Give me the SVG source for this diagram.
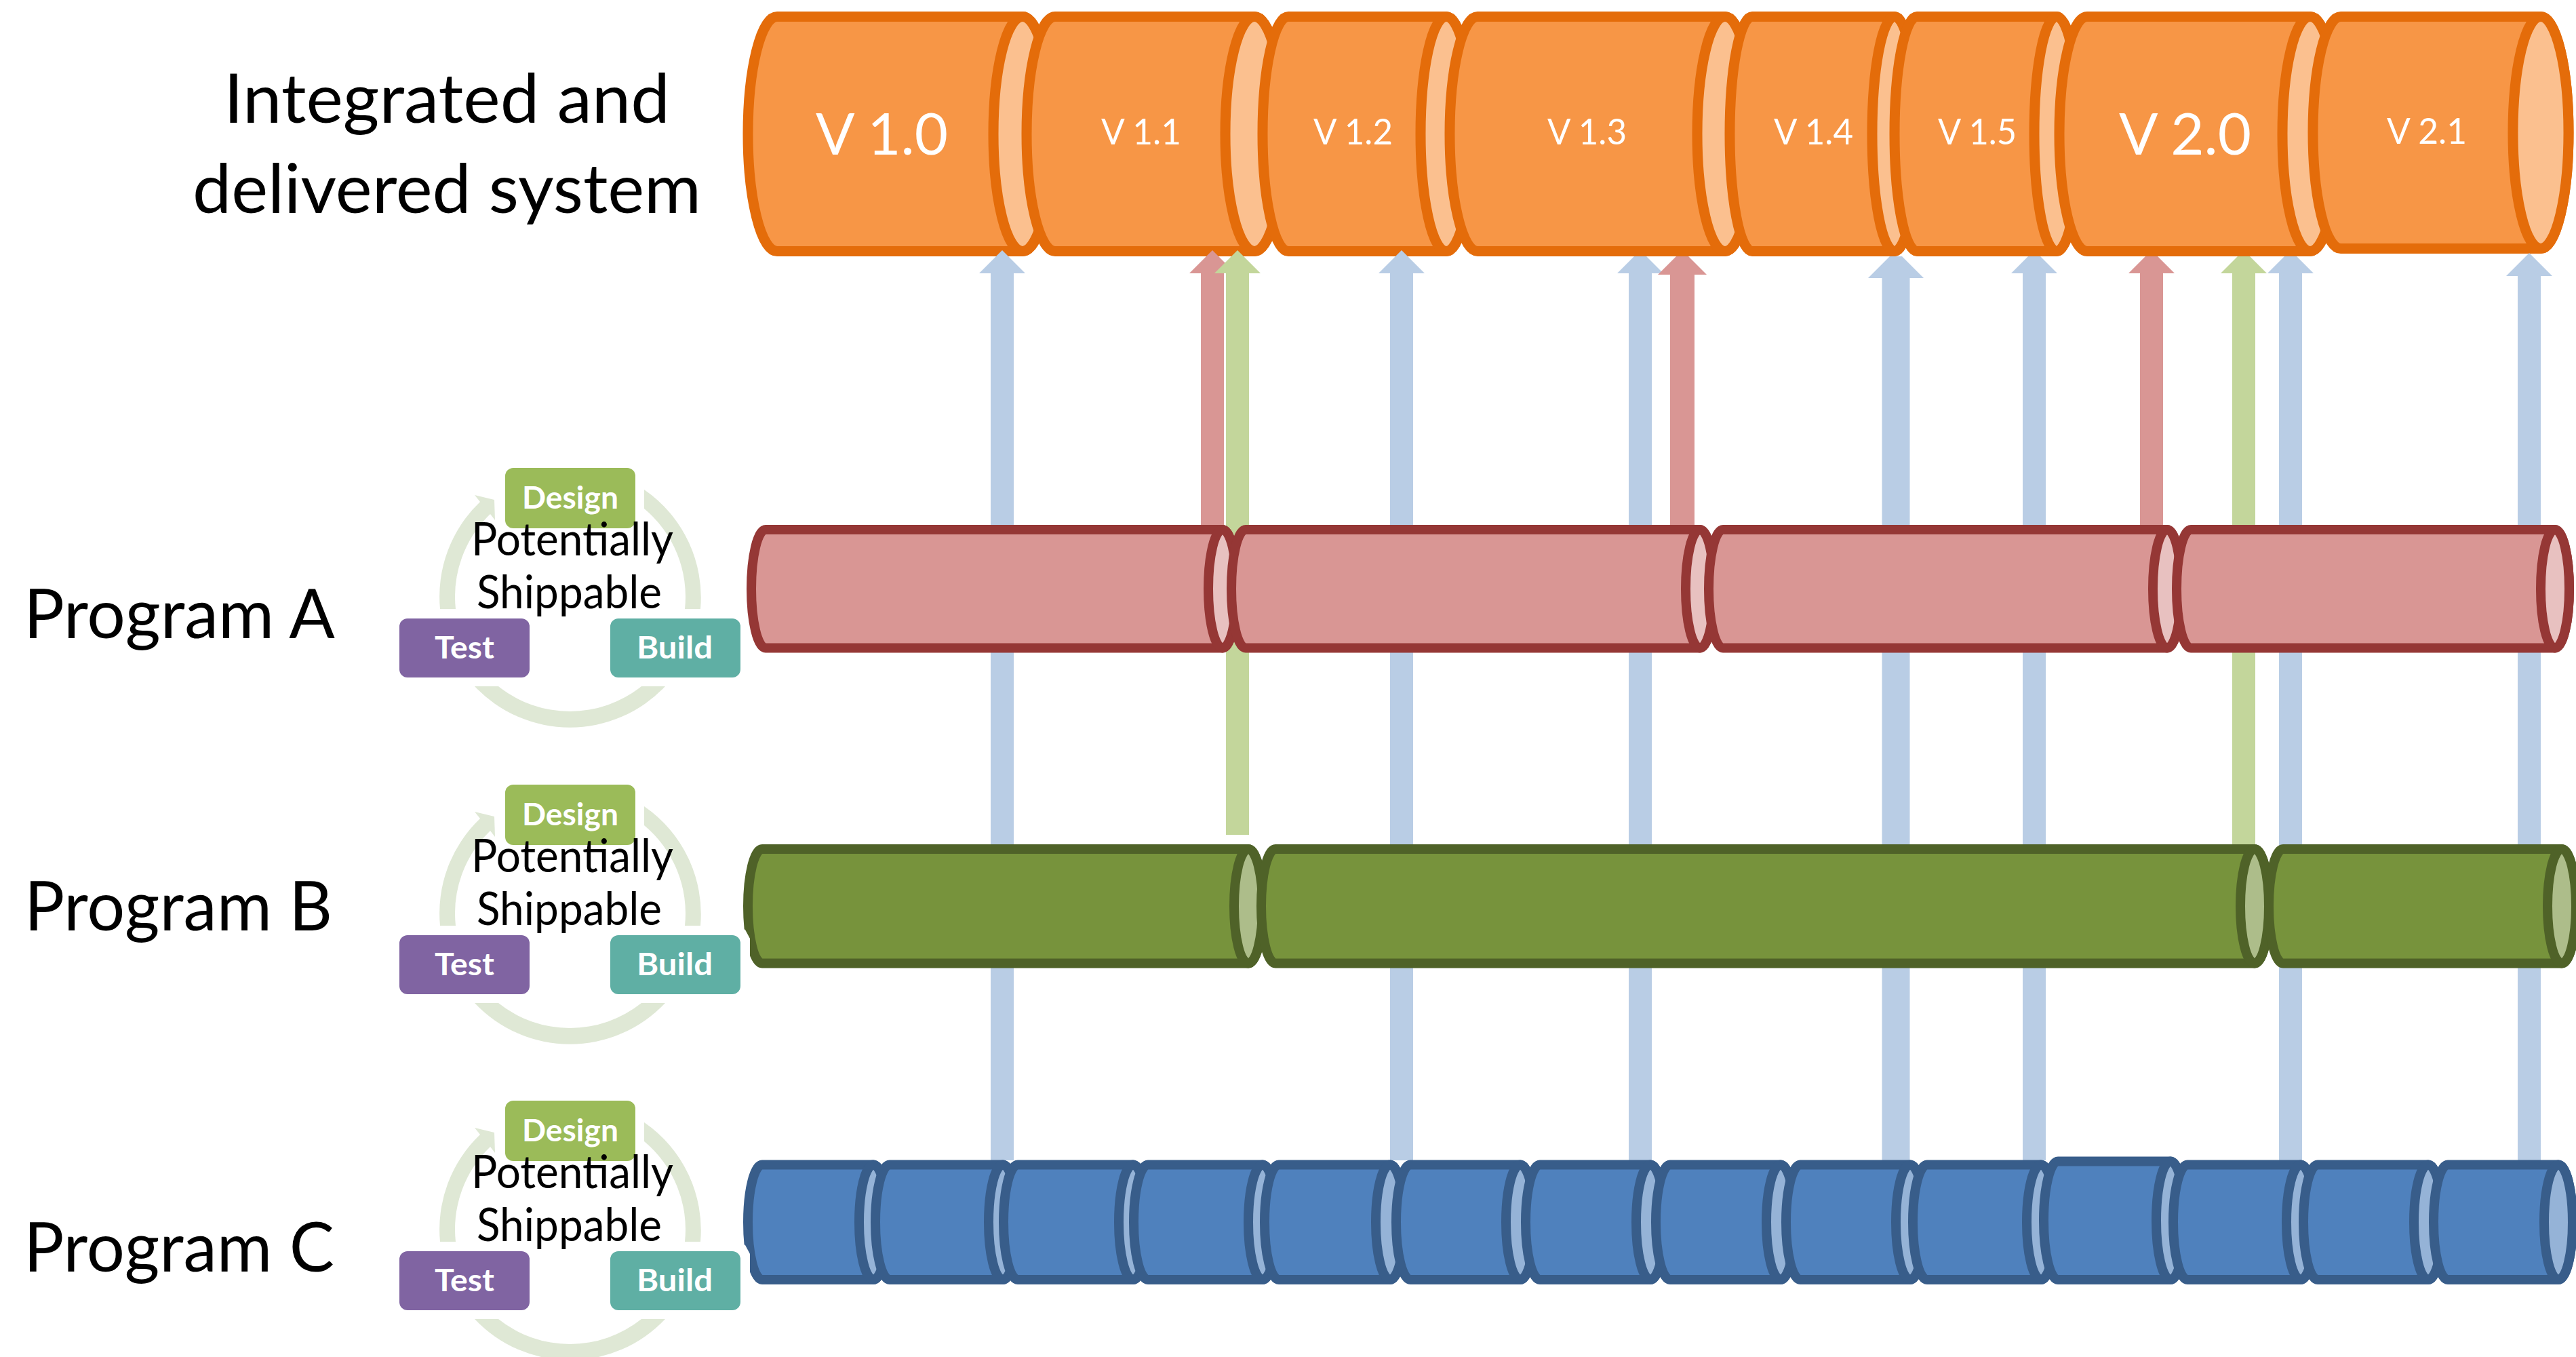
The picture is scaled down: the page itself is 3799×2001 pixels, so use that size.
<svg xmlns="http://www.w3.org/2000/svg" width="3799" height="2001" viewBox="0 0 3799 2001">
<style>
text{font-family:Lato,"Liberation Sans",sans-serif}
.lbl{font-size:100px;fill:#000}
.pot{font-size:67px;fill:#000}
.ver{fill:#fff;font-weight:400}
.big{font-size:86px}
.sm{font-size:53px}
.box{font-size:46px;font-weight:700;fill:#fff;text-anchor:start}
.o{stroke:#E46C0A;stroke-width:15;stroke-linejoin:round}
.ob{fill:#F79646}.oe{fill:#FBC08F}
.r{stroke:#953735;stroke-width:14;stroke-linejoin:round}
.rb{fill:#D99694}.re{fill:#E8C1C0}
.g{stroke:#4F6228;stroke-width:14;stroke-linejoin:round}
.gb{fill:#77933C}.ge{fill:#ADBD8A}
.b{stroke:#385D8A;stroke-width:14;stroke-linejoin:round}
.bb{fill:#4F81BD}.be{fill:#95B3D7}
.ab{fill:#B9CDE5}.ar{fill:#D99694}.ag{fill:#C3D69B}
.ring{fill:#DFE8D5}
</style>
<defs>
<path id="ring" class="ring" d="M950,722 A193,193 0 0 1 1033,898 L1010,898 A169,169 0 0 0 950,750 Z M700,1012 A193,193 0 0 0 981,1012 L946,1012 A169,169 0 0 1 735,1012 Z M649,898 A193,193 0 0 1 708,740 L700,730 L729,737 L730,767 L723,758 A169,169 0 0 0 672,898 Z"/>
</defs>
<rect width="3799" height="2001" fill="#fff"/>

<g id="integrated">
<g class="o"><path class="ob" d="M1146,24.500 H1508 A43,173 0 0 1 1508,370.500 H1146 A43,173 0 0 1 1146,24.500 Z"/><ellipse class="oe" cx="1508" cy="197.500" rx="43" ry="173"/></g>
<text class="ver big" x="1203" y="228" textLength="195" lengthAdjust="spacingAndGlyphs">V 1.0</text>
<g class="o"><path class="ob" d="M1556,24.500 H1850 A42,173 0 0 1 1850,370.500 H1556 A42,173 0 0 1 1556,24.500 Z"/><ellipse class="oe" cx="1850" cy="197.500" rx="43" ry="173"/></g>
<text class="ver sm" x="1624" y="213" textLength="118" lengthAdjust="spacingAndGlyphs">V 1.1</text>
<g class="o"><path class="ob" d="M1900,24.500 H2133 A38,173 0 0 1 2133,370.500 H1900 A38,173 0 0 1 1900,24.500 Z"/><ellipse class="oe" cx="2133" cy="197.500" rx="38" ry="173"/></g>
<text class="ver sm" x="1937" y="213" textLength="117" lengthAdjust="spacingAndGlyphs">V 1.2</text>
<g class="o"><path class="ob" d="M2179,24.500 H2544 A41,173 0 0 1 2544,370.500 H2179 A41,173 0 0 1 2179,24.500 Z"/><ellipse class="oe" cx="2544" cy="197.500" rx="41" ry="173"/></g>
<text class="ver sm" x="2282" y="213" textLength="117" lengthAdjust="spacingAndGlyphs">V 1.3</text>
<g class="o"><path class="ob" d="M2584,24.500 H2794 A33,173 0 0 1 2794,370.500 H2584 A33,173 0 0 1 2584,24.500 Z"/><ellipse class="oe" cx="2794" cy="197.500" rx="33" ry="173"/></g>
<text class="ver sm" x="2616" y="213" textLength="117" lengthAdjust="spacingAndGlyphs">V 1.4</text>
<g class="o"><path class="ob" d="M2827,24.500 H3033 A33,173 0 0 1 3033,370.500 H2827 A33,173 0 0 1 2827,24.500 Z"/><ellipse class="oe" cx="3033" cy="197.500" rx="33" ry="173"/></g>
<text class="ver sm" x="2858" y="213" textLength="116" lengthAdjust="spacingAndGlyphs">V 1.5</text>
<g class="o"><path class="ob" d="M3078,24.500 H3407 A41,173 0 0 1 3407,370.500 H3078 A41,173 0 0 1 3078,24.500 Z"/><ellipse class="oe" cx="3407" cy="197.500" rx="41" ry="173"/></g>
<text class="ver big" x="3125" y="228" textLength="195" lengthAdjust="spacingAndGlyphs">V 2.0</text>
<g class="o"><path class="ob" d="M3452,24.500 H3747 A41,171 0 0 1 3747,366.500 H3452 A41,171 0 0 1 3452,24.500 Z"/><ellipse class="oe" cx="3747" cy="195.500" rx="41" ry="171"/></g>
<text class="ver sm" x="3520" y="212" textLength="118" lengthAdjust="spacingAndGlyphs">V 2.1</text>
</g>

<g id="connectors">
<path class="ab" d="M1461,1711 V403 H1444 L1478,369 L1512,403 H1495 V1711 Z"/>
<path class="ab" d="M2050,1711 V403 H2033 L2067,369 L2101,403 H2084 V1711 Z"/>
<path class="ab" d="M2402,1711 V403 H2385 L2410,378 H2428 L2453,403 H2436 V1711 Z"/>
<path class="ab" d="M2775.500,1711 V410 H2755 L2787,378 H2805 L2837,410 H2816.500 V1711 Z"/>
<path class="ab" d="M2983,1711 V403 H2966 L2991,378 H3009 L3034,403 H3017 V1711 Z"/>
<path class="ar" d="M1771,775 V403 H1754 L1788,369 L1822,403 H1805 V775 Z"/>
<path class="ag" d="M1808,1231 V403 H1791 L1825,369 L1859,403 H1842 V1231 Z"/>
<path class="ar" d="M2463,775 V405 H2445 L2472,378 H2490 L2517,405 H2499 V775 Z"/>
<path class="ar" d="M3156,775 V403 H3139 L3164,378 H3182 L3207,403 H3190 V775 Z"/>
<path class="ag" d="M3292,1246 V403 H3275 L3300,378 H3318 L3343,403 H3326 V1246 Z"/>
<path class="ab" d="M3361,1711 V403 H3344 L3369,378 H3387 L3412,403 H3395 V1711 Z"/>
<path class="ab" d="M3713,1711 V407 H3696 L3730,373 L3764,407 H3747 V1711 Z"/>
</g>

<g id="program-a-bar">
<g class="r"><path class="rb" d="M1129,781 H1803 A21,87.250 0 0 1 1803,955.500 H1129 A21,87.250 0 0 1 1129,781 Z"/><ellipse class="re" cx="1803" cy="868.250" rx="21" ry="87.250"/></g>
<g class="r"><path class="rb" d="M1837,781 H2507 A21,87.250 0 0 1 2507,955.500 H1837 A21,87.250 0 0 1 1837,781 Z"/><ellipse class="re" cx="2507" cy="868.250" rx="21" ry="87.250"/></g>
<g class="r"><path class="rb" d="M2541,781 H3196 A21,87.250 0 0 1 3196,955.500 H2541 A21,87.250 0 0 1 2541,781 Z"/><ellipse class="re" cx="3196" cy="868.250" rx="21" ry="87.250"/></g>
<g class="r"><path class="rb" d="M3231,781 H3768 A21,87.250 0 0 1 3768,955.500 H3231 A21,87.250 0 0 1 3231,781 Z"/><ellipse class="re" cx="3768" cy="868.250" rx="21" ry="87.250"/></g>
</g>

<g id="program-b-bar">
<g class="g"><path class="gb" d="M1124,1252 H1841 A21,84.250 0 0 1 1841,1420.500 H1124 A21,84.250 0 0 1 1124,1252 Z"/><ellipse class="ge" cx="1841" cy="1336.250" rx="21" ry="84.250"/></g>
<g class="g"><path class="gb" d="M1881,1252 H3325 A21,84.250 0 0 1 3325,1420.500 H1881 A21,84.250 0 0 1 1881,1252 Z"/><ellipse class="ge" cx="3325" cy="1336.250" rx="21" ry="84.250"/></g>
<g class="g"><path class="gb" d="M3367,1252 H3778 A21,84.250 0 0 1 3778,1420.500 H3367 A21,84.250 0 0 1 3367,1252 Z"/><ellipse class="ge" cx="3778" cy="1336.250" rx="21" ry="84.250"/></g>
<path fill="#fff" d="M1088,1366 L1099,1371 L1106,1384 V1430 H1088 Z"/>
</g>

<g id="program-c-bar">
<g class="b"><path class="bb" d="M1124,1717.500 H1288 A21,84.750 0 0 1 1288,1887 H1124 A21,84.750 0 0 1 1124,1717.500 Z"/><ellipse class="be" cx="1288" cy="1802.250" rx="21" ry="84.750"/></g>
<g class="b"><path class="bb" d="M1312,1717.500 H1479 A21,84.750 0 0 1 1479,1887 H1312 A21,84.750 0 0 1 1312,1717.500 Z"/><ellipse class="be" cx="1479" cy="1802.250" rx="21" ry="84.750"/></g>
<g class="b"><path class="bb" d="M1501,1717.500 H1671 A21,84.750 0 0 1 1671,1887 H1501 A21,84.750 0 0 1 1501,1717.500 Z"/><ellipse class="be" cx="1671" cy="1802.250" rx="21" ry="84.750"/></g>
<g class="b"><path class="bb" d="M1693,1717.500 H1862 A21,84.750 0 0 1 1862,1887 H1693 A21,84.750 0 0 1 1693,1717.500 Z"/><ellipse class="be" cx="1862" cy="1802.250" rx="21" ry="84.750"/></g>
<g class="b"><path class="bb" d="M1886,1717.500 H2050 A21,84.750 0 0 1 2050,1887 H1886 A21,84.750 0 0 1 1886,1717.500 Z"/><ellipse class="be" cx="2050" cy="1802.250" rx="21" ry="84.750"/></g>
<g class="b"><path class="bb" d="M2080,1717.500 H2242 A21,84.750 0 0 1 2242,1887 H2080 A21,84.750 0 0 1 2080,1717.500 Z"/><ellipse class="be" cx="2242" cy="1802.250" rx="21" ry="84.750"/></g>
<g class="b"><path class="bb" d="M2271,1717.500 H2434 A21,84.750 0 0 1 2434,1887 H2271 A21,84.750 0 0 1 2271,1717.500 Z"/><ellipse class="be" cx="2434" cy="1802.250" rx="21" ry="84.750"/></g>
<g class="b"><path class="bb" d="M2463,1717.500 H2626 A21,84.750 0 0 1 2626,1887 H2463 A21,84.750 0 0 1 2463,1717.500 Z"/><ellipse class="be" cx="2626" cy="1802.250" rx="21" ry="84.750"/></g>
<g class="b"><path class="bb" d="M2655,1717.500 H2817 A21,84.750 0 0 1 2817,1887 H2655 A21,84.750 0 0 1 2655,1717.500 Z"/><ellipse class="be" cx="2817" cy="1802.250" rx="21" ry="84.750"/></g>
<g class="b"><path class="bb" d="M2842,1717.500 H3010 A21,84.750 0 0 1 3010,1887 H2842 A21,84.750 0 0 1 2842,1717.500 Z"/><ellipse class="be" cx="3010" cy="1802.250" rx="21" ry="84.750"/></g>
<g class="b"><path class="bb" d="M3035,1712.500 H3201 A21,87.250 0 0 1 3201,1887 H3035 A21,87.250 0 0 1 3035,1712.500 Z"/><ellipse class="be" cx="3201" cy="1799.750" rx="21" ry="87.250"/></g>
<g class="b"><path class="bb" d="M3226,1717.500 H3393 A21,84.750 0 0 1 3393,1887 H3226 A21,84.750 0 0 1 3226,1717.500 Z"/><ellipse class="be" cx="3393" cy="1802.250" rx="21" ry="84.750"/></g>
<g class="b"><path class="bb" d="M3418,1717.500 H3581 A21,84.750 0 0 1 3581,1887 H3418 A21,84.750 0 0 1 3418,1717.500 Z"/><ellipse class="be" cx="3581" cy="1802.250" rx="21" ry="84.750"/></g>
<g class="b"><path class="bb" d="M3610,1717.500 H3773 A21,84.750 0 0 1 3773,1887 H3610 A21,84.750 0 0 1 3610,1717.500 Z"/><ellipse class="be" cx="3773" cy="1802.250" rx="21" ry="84.750"/></g>
<path fill="#fff" d="M1088,1831 L1099,1836 L1106,1849 V1895 H1088 Z"/>
</g>

<g id="cycle-a">
<use href="#ring"/>
<rect x="745" y="690" width="192" height="89" rx="12" fill="#9BBB59"/>
<rect x="589" y="912" width="192" height="87" rx="12" fill="#8064A2"/>
<rect x="900" y="912" width="192" height="87" rx="12" fill="#5FAFA4"/>
<text class="box" x="770" y="750" textLength="142" lengthAdjust="spacingAndGlyphs">Design</text>
<text class="box" x="641" y="971" textLength="88" lengthAdjust="spacingAndGlyphs">Test</text>
<text class="box" x="939" y="971" textLength="112" lengthAdjust="spacingAndGlyphs">Build</text>
<text class="pot" x="695" y="819" textLength="298" lengthAdjust="spacingAndGlyphs">Potentially</text>
<text class="pot" x="703" y="897" textLength="273" lengthAdjust="spacingAndGlyphs">Shippable</text>
</g>
<g id="cycle-b" transform="translate(0,467)">
<use href="#ring"/>
<rect x="745" y="690" width="192" height="89" rx="12" fill="#9BBB59"/>
<rect x="589" y="912" width="192" height="87" rx="12" fill="#8064A2"/>
<rect x="900" y="912" width="192" height="87" rx="12" fill="#5FAFA4"/>
<text class="box" x="770" y="750" textLength="142" lengthAdjust="spacingAndGlyphs">Design</text>
<text class="box" x="641" y="971" textLength="88" lengthAdjust="spacingAndGlyphs">Test</text>
<text class="box" x="939" y="971" textLength="112" lengthAdjust="spacingAndGlyphs">Build</text>
<text class="pot" x="695" y="819" textLength="298" lengthAdjust="spacingAndGlyphs">Potentially</text>
<text class="pot" x="703" y="897" textLength="273" lengthAdjust="spacingAndGlyphs">Shippable</text>
</g>
<g id="cycle-c" transform="translate(0,933)">
<use href="#ring"/>
<rect x="745" y="690" width="192" height="89" rx="12" fill="#9BBB59"/>
<rect x="589" y="912" width="192" height="87" rx="12" fill="#8064A2"/>
<rect x="900" y="912" width="192" height="87" rx="12" fill="#5FAFA4"/>
<text class="box" x="770" y="750" textLength="142" lengthAdjust="spacingAndGlyphs">Design</text>
<text class="box" x="641" y="971" textLength="88" lengthAdjust="spacingAndGlyphs">Test</text>
<text class="box" x="939" y="971" textLength="112" lengthAdjust="spacingAndGlyphs">Build</text>
<text class="pot" x="695" y="819" textLength="298" lengthAdjust="spacingAndGlyphs">Potentially</text>
<text class="pot" x="703" y="897" textLength="273" lengthAdjust="spacingAndGlyphs">Shippable</text>
</g>

<g id="labels">
<text class="lbl" x="330" y="181" textLength="658" lengthAdjust="spacingAndGlyphs">Integrated and</text>
<text class="lbl" x="284" y="314" textLength="750" lengthAdjust="spacingAndGlyphs">delivered system</text>
<text class="lbl" x="35" y="941" textLength="459" lengthAdjust="spacingAndGlyphs">Program A</text>
<text class="lbl" x="36" y="1372" textLength="454" lengthAdjust="spacingAndGlyphs">Program B</text>
<text class="lbl" x="35" y="1875" textLength="458" lengthAdjust="spacingAndGlyphs">Program C</text>
</g>
</svg>
